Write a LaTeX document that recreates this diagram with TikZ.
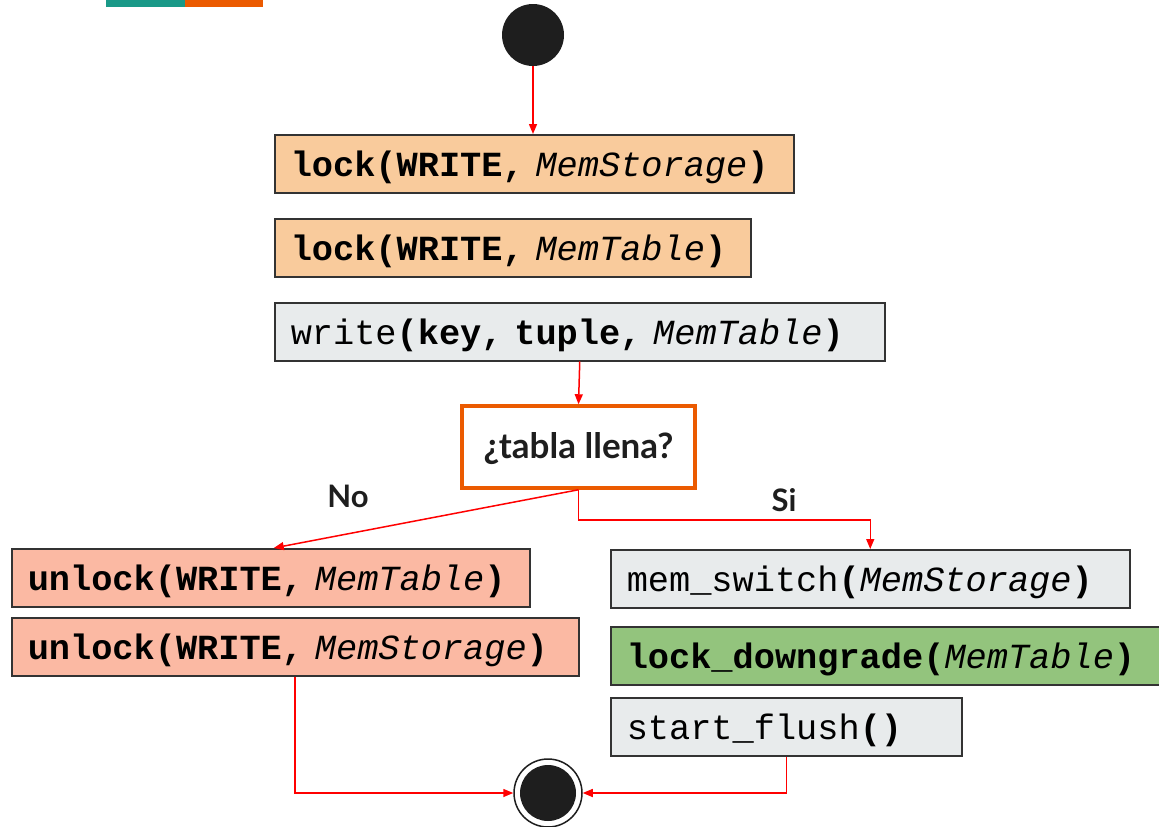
\documentclass[tikz,border=0pt]{standalone}
\usepackage{fontspec}
\setmonofont{Liberation Mono}
\newfontfamily\lato{Lato}
\usetikzlibrary{arrows.meta}
\definecolor{peach}{HTML}{F9CB9C}
\definecolor{salmon}{HTML}{FBB9A3}
\definecolor{lgray}{HTML}{E8EBEC}
\definecolor{lgreen}{HTML}{93C47D}
\definecolor{dark}{HTML}{1E1E1E}
\definecolor{boxline}{HTML}{333333}
\definecolor{orangeD}{HTML}{EB5A00}
\definecolor{tealD}{HTML}{1A9988}
\definecolor{redA}{HTML}{FF0000}
\begin{document}
\begin{tikzpicture}[x=1pt,y=-1pt,
  box/.style={draw=boxline, line width=1.5pt, rectangle, anchor=north west,
    inner xsep=16pt, inner ysep=0pt, minimum height=58pt, align=left,
    text height=26pt, text depth=0pt,
    font=\ttfamily\fontsize{35.3}{40}\selectfont},
  decision/.style={draw=orangeD, line width=3.5pt, fill=white, rectangle,
    minimum width=233pt, minimum height=82pt, inner sep=0pt,
    text height=23pt, text depth=0pt,
    font=\lato\bfseries\fontsize{35}{40}\selectfont, text=dark},
  lbl/.style={font=\lato\bfseries\fontsize{31}{36}\selectfont, text=dark, inner sep=0pt},
  arr/.style={draw=redA, line width=1.5pt, -{Triangle[length=10pt,width=8pt]}},
  startnode/.style={circle, fill=dark, minimum size=62pt, inner sep=0pt}]
\useasboundingbox (0,0) rectangle (1159,827);
% top bars
\fill[tealD] (106,0) rectangle (185,7);
\fill[orangeD] (185,0) rectangle (263,7);
% nodes
\node[startnode] (start) at (533,35) {};
\node[box, fill=peach, text width=487pt] (ls) at (274,134) {\textbf{lock(WRITE, }\textit{MemStorage}\textbf{)}};
\node[box, fill=peach, text width=444pt] (lt) at (274,218) {\textbf{lock(WRITE, }\textit{MemTable}\textbf{)}};
\node[box, fill=lgray, text width=578pt] (wr) at (274,302) {write\textbf{(key, tuple, }\textit{MemTable}\textbf{)}};
\node[decision] (dec) at (578.5,447) {¿tabla llena?};
\node[box, fill=salmon, text width=486pt] (ut) at (11,548) {\textbf{unlock(WRITE, }\textit{MemTable}\textbf{)}};
\node[box, fill=salmon, text width=535pt] (us) at (11,617) {\textbf{unlock(WRITE, }\textit{MemStorage}\textbf{)}};
\node[box, fill=lgray, text width=487pt] (ms) at (610,549) {mem\_switch\textbf{(}\textit{MemStorage}\textbf{)}};
\node[box, fill=lgreen, text width=528pt] (ld) at (610,626) {\textbf{lock\_downgrade(}\textit{MemTable}\textbf{)}};
\node[box, fill=lgray, text width=319pt] (sf) at (610,697) {start\_flush\textbf{()}};
\node[circle, draw=dark, line width=1.5pt, fill=white, minimum size=68pt, inner sep=0pt] (endo) at (548,793) {};
\node[circle, fill=dark, minimum size=56pt, inner sep=0pt] (endi) at (548,793) {};
\node[lbl] (no) at (348,496) {No};
\node[lbl] (si) at (784,500) {Si};
% connectors
\draw[arr] (start.south) -- (start.south |- ls.north);
\draw[arr] (wr.south) -- (dec.north);
\draw[arr] (dec.south) -- ([xshift=3pt]ut.north);
\draw[arr] (dec.south) -- ++(0,30) -| (ms.north);
\draw[arr] ([xshift=284pt]us.south west) |- (endo.west);
\draw[arr] (sf.south) |- (endo.east);
\end{tikzpicture}
\end{document}
